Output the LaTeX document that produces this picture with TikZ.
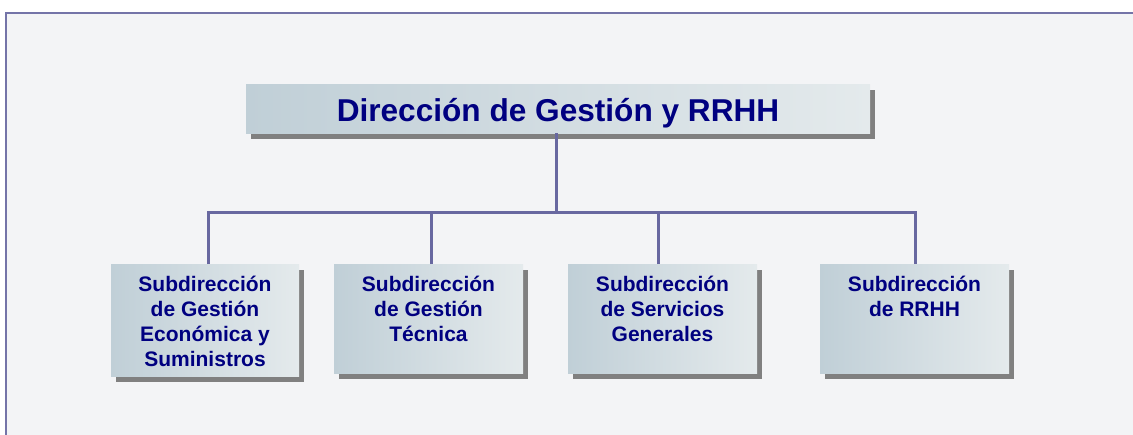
\documentclass[tikz,border=0pt]{standalone}
\usepackage{fontspec}
\setmainfont{Liberation Sans}
\usetikzlibrary{shadows}
\definecolor{bgc}{HTML}{F3F4F6}
\definecolor{framec}{HTML}{7474A8}
\definecolor{linec}{HTML}{6868A0}
\definecolor{boxL}{HTML}{C0CFD7}
\definecolor{boxR}{HTML}{E4EAEC}
\definecolor{shadowc}{HTML}{808080}
\definecolor{txtc}{HTML}{000080}
\tikzset{
  orgbox/.style={inner sep=0pt, outer sep=0pt, anchor=north west,
    left color=boxL, right color=boxR, shading angle=90,
    drop shadow={shadow xshift=5pt, shadow yshift=-6pt, fill=shadowc, opacity=1},
    text=txtc, font=\bfseries},
  conn/.style={draw=linec, line width=3pt, line join=miter},
}
\newcommand{\subtxt}[3]{\parbox[t][#1pt][t]{#2pt}{\centering\fontsize{21}{25}\selectfont\rule{0pt}{27pt}#3}}
\begin{document}
\begin{tikzpicture}[x=1pt,y=-1pt]
\useasboundingbox (0,0) rectangle (1133,434);
\clip (0,0) rectangle (1133,434);
\fill[white] (0,0) rectangle (1133,434);
\fill[bgc] (6,12.5) rectangle (1145,445);
\draw[framec, line width=2pt] (1145,12.5) -- (6,12.5) -- (6,445);
% boxes
\node[orgbox, minimum width=624pt, minimum height=49pt, text height=28pt, text depth=1.6pt,
      font=\bfseries\fontsize{31.6}{36}\selectfont] (top) at (246,84) {Dirección de Gestión y RRHH};
\node[orgbox] (b1) at (111,264) {\subtxt{112}{188}{Subdirección\\de Gestión\\Económica y\\Suministros}};
\node[orgbox] (b2) at (334,264) {\subtxt{109}{189}{Subdirección\\de Gestión\\Técnica}};
\node[orgbox] (b3) at (568,264) {\subtxt{109}{189}{Subdirección\\de Servicios\\Generales}};
\node[orgbox] (b4) at (820,264) {\subtxt{109}{189}{Subdirección\\de RRHH}};
% connectors
\coordinate (bus) at (556,212);
\draw[conn] ([xshift=-2pt]top.south) -- ([xshift=-2pt]top.south |- bus);
\draw[conn] ([xshift=3pt]b1.north) |- ([xshift=1pt]b4.north |- bus) -- ([xshift=1pt]b4.north);
\draw[conn] ([xshift=2.5pt]b2.north) -- ([xshift=2.5pt]b2.north |- bus);
\draw[conn] ([xshift=-4.5pt]b3.north) -- ([xshift=-4.5pt]b3.north |- bus);
\end{tikzpicture}
\end{document}
